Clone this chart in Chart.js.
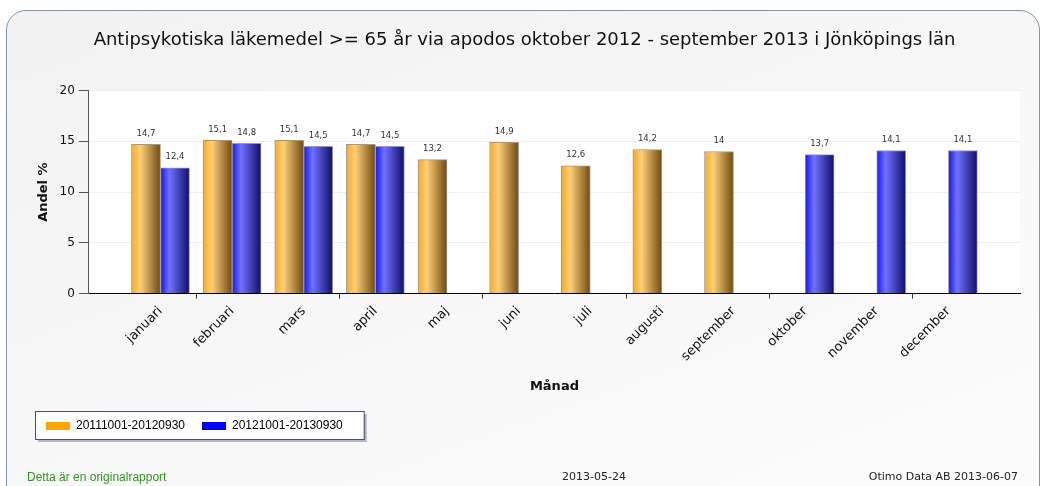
<!DOCTYPE html>
<html>
<head>
<meta charset="utf-8">
<script src="https://cdn.jsdelivr.net/npm/chart.js@4.4.1/dist/chart.umd.min.js"></script>
<style>
  html, body { margin: 0; padding: 0; }
  body {
    width: 1045px; height: 486px; overflow: hidden; position: relative;
    background: #ffffff;
  }
  #frame {
    position: absolute; left: 6px; top: 10px; width: 1034px; height: 500px;
    border: 1px solid #8496ad; border-radius: 20px;
    background: linear-gradient(160deg, #f2f2f2 0%, #f7f7f7 50%, #fcfcfc 100%);
    box-sizing: border-box;
  }
  #wrap { position: absolute; left: 0; top: 0; width: 1045px; height: 486px; }
  .foot { position: absolute; top: 470px; font-family: "DejaVu Sans", sans-serif; font-size: 11px; color: #222; }
  #orig { left: 27px; font-family: "Liberation Sans", Arial, sans-serif; font-size: 12px; color: #2f9a1e; }
  #date { left: 562px; }
  #made { right: 27px; }
</style>
</head>
<body>
<div id="frame"></div>
<div id="wrap"><canvas id="apodoschart"></canvas></div>
<div class="foot" id="orig">Detta är en originalrapport</div>
<div class="foot" id="date">2013-05-24</div>
<div class="foot" id="made">Otimo Data AB 2013-06-07</div>

<script>
// Data block
const months = ['januari', 'februari', 'mars', 'april', 'maj', 'juni', 'juli',
                'augusti', 'september', 'oktober', 'november', 'december'];
const period1 = [14.7, 15.1, 15.1, 14.7, 13.2, 14.9, 12.6, 14.2, 14, null, null, null];
const period2 = [12.4, 14.8, 14.5, 14.5, null, null, null, null, null, 13.7, 14.1, 14.1];
const seriesLabels = ['20111001-20120930', '20121001-20130930'];
const yTicks = [0, 5, 10, 15, 20];

const BAR = 29;

// Gradient fill for each bar, worked out from the x scale
function barGradient(stops, offset) {
    return function(ctx) {
        const chart = ctx.chart;
        const xs = chart.scales.x;
        if (!xs || ctx.dataIndex === undefined) return stops[0];
        const c = xs.getPixelForValue(ctx.dataIndex + 1) + offset;
        const g = chart.ctx.createLinearGradient(c - BAR / 2, 0, c + BAR / 2, 0);
        g.addColorStop(0, stops[0]);
        g.addColorStop(0.3, stops[1]);
        g.addColorStop(1, stops[2]);
        return g;
    };
}

const apodosData = {
    datasets: [{
        label: seriesLabels[0],
        data: period1.map((v, i) => ({x: i + 1, y: v})),
        backgroundColor: barGradient(['#ffa81a', '#ffd07a', '#6e4a0e'], -BAR / 2),
        borderColor: '#9a9a9a',
        borderWidth: 1,
        barThickness: BAR
    }, {
        label: seriesLabels[1],
        data: period2.map((v, i) => ({x: i + 1, y: v})),
        backgroundColor: barGradient(['#1414ff', '#7272ff', '#0e0e6a'], BAR / 2),
        borderColor: '#9a9a9a',
        borderWidth: 1,
        barThickness: BAR
    }]
};

// White plot area + legend frame
const plotBackground = {
    id: 'plotBackground',
    beforeDraw(chart) {
        const {ctx, chartArea: a} = chart;
        ctx.save();
        ctx.fillStyle = '#ffffff';
        ctx.fillRect(a.left, a.top, a.right - a.left, a.bottom - a.top);
        const hb = chart.legend.legendHitBoxes;
        if (hb && hb.length) {
            const last = hb[hb.length - 1];
            const l = hb[0].left - 11, t = hb[0].top - 9;
            const w = last.left + last.width + 21 - l, h = 28;
            ctx.fillStyle = '#b8b8b8';
            ctx.fillRect(l + 3, t + 3, w, h);
            ctx.fillStyle = '#ffffff';
            ctx.fillRect(l, t, w, h);
            ctx.strokeStyle = '#4a4f6a';
            ctx.lineWidth = 1;
            ctx.strokeRect(l + 0.5, t + 0.5, w, h);
        }
        ctx.restore();
    }
};

// Value labels above the bars
const valueLabels = {
    id: 'valueLabels',
    afterDatasetsDraw(chart) {
        const ctx = chart.ctx;
        ctx.save();
        ctx.font = '8.5px "DejaVu Sans"';
        ctx.fillStyle = '#333333';
        ctx.textAlign = 'center';
        ctx.textBaseline = 'middle';
        chart.data.datasets.forEach((ds, di) => {
            chart.getDatasetMeta(di).data.forEach((el, i) => {
                const v = ds.data[i].y;
                if (v === null) return;
                ctx.fillText(String(v).replace('.', ','), el.x, el.y - 11);
            });
        });
        ctx.restore();
    }
};

const apodosConfig = {
    type: 'bar',
    data: apodosData,
    options: {
        responsive: true,
        maintainAspectRatio: false,
        animation: false,
        layout: {padding: {left: 29, right: 25, top: 0, bottom: 44}},
        plugins: {
            title: {
                display: true,
                text: 'Antipsykotiska läkemedel >= 65 år via apodos oktober 2012 - september 2013 i Jönköpings län',
                color: '#111111',
                font: {family: 'DejaVu Sans', size: 18, weight: 'normal'},
                padding: {top: 30, bottom: 39}
            },
            legend: {
                position: 'bottom',
                align: 'start',
                onClick: null,
                labels: {
                    boxWidth: 24,
                    boxHeight: 8,
                    padding: 17,
                    color: '#111111',
                    font: {family: 'Liberation Sans', size: 12},
                    generateLabels() {
                        return seriesLabels.map((t, i) => ({
                            text: t,
                            fillStyle: i === 0 ? '#ffa500' : '#0000ff',
                            strokeStyle: 'transparent',
                            lineWidth: 0,
                            datasetIndex: i
                        }));
                    }
                }
            },
            tooltip: {enabled: false}
        },
        scales: {
            x: {
                type: 'linear',
                min: 0,
                max: 13,
                offset: false,
                border: {color: '#000000', width: 1},
                grid: {
                    drawOnChartArea: false,
                    tickLength: 5,
                    tickColor: (ctx) => (ctx.tick && ctx.tick.value % 2 === 0) ? '#333333' : 'rgba(0,0,0,0)'
                },
                ticks: {
                    stepSize: 1,
                    autoSkip: false,
                    minRotation: 45,
                    maxRotation: 45,
                    padding: 5,
                    color: '#111111',
                    font: {family: 'DejaVu Sans', size: 13},
                    callback: (v) => months[v - 1] || ''
                },
                title: {
                    display: true,
                    text: 'Månad',
                    color: '#111111',
                    font: {family: 'DejaVu Sans', size: 13, weight: 'bold'},
                    padding: {top: 9, bottom: 9}
                }
            },
            y: {
                min: yTicks[0],
                max: yTicks[yTicks.length - 1],
                border: {color: '#555555', width: 1},
                grid: {color: '#f0f0f0', tickColor: '#555555', tickLength: 10},
                afterBuildTicks: (axis) => { axis.ticks = yTicks.map(v => ({value: v})); },
                ticks: {
                    color: '#111111',
                    padding: 4,
                    font: {family: 'DejaVu Sans', size: 12}
                },
                title: {
                    display: true,
                    text: 'Andel %',
                    color: '#111111',
                    font: {family: 'DejaVu Sans', size: 13, weight: 'bold'},
                    padding: {top: 7, bottom: 4}
                }
            }
        }
    },
    plugins: [plotBackground, valueLabels]
};

const apodosChart = new Chart(
    document.getElementById('apodoschart'),
    apodosConfig
);
</script>
</body>
</html>
